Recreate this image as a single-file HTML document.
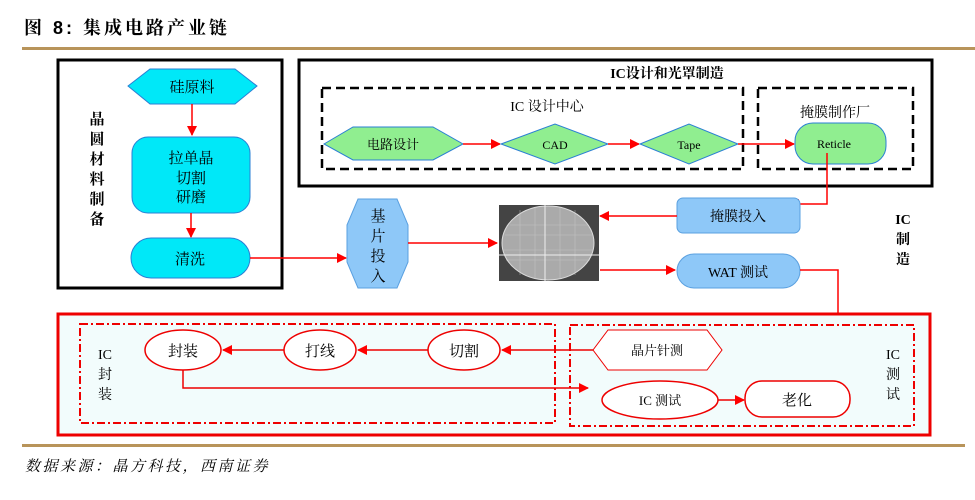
<!DOCTYPE html>
<html><head><meta charset="utf-8"><style>
body{margin:0;background:#fff;}
svg text{font-family:"Liberation Serif","Noto Serif CJK SC","Noto Sans CJK SC",serif;}
</style></head><body>
<svg width="975" height="495" viewBox="0 0 975 495" xmlns="http://www.w3.org/2000/svg">
<defs>
<marker id="a" markerWidth="10" markerHeight="10" refX="9" refY="5" orient="auto" markerUnits="userSpaceOnUse"><path d="M0,0 L10,5 L0,10 z" fill="#f00"/></marker>
</defs>
<text x="24" y="34" font-size="18" font-weight="bold" letter-spacing="3" style="font-family:'Liberation Sans','Noto Serif CJK SC',serif">图 8:  集成电路产业链</text>
<rect x="22" y="47" width="953" height="3" fill="#b8945a"/>

<!-- left box -->
<rect x="58" y="60" width="224" height="228" fill="none" stroke="#000" stroke-width="3"/>
<g font-size="15" font-weight="bold" text-anchor="middle">
<text x="97" y="124">晶</text><text x="97" y="144">圆</text><text x="97" y="164">材</text><text x="97" y="184">料</text><text x="97" y="204">制</text><text x="97" y="224">备</text>
</g>
<polygon points="128,86 150,69 235,69 257,86 235,104 150,104" fill="#00e8f8" stroke="#2a7fd4"/>
<text x="192" y="92" font-size="15" text-anchor="middle">硅原料</text>
<line x1="192" y1="104" x2="192" y2="135" stroke="#f00" stroke-width="1.5" marker-end="url(#a)"/>
<rect x="132" y="137" width="118" height="76" rx="16" fill="#00e8f8" stroke="#2a7fd4"/>
<text x="191" y="163" font-size="15" text-anchor="middle">拉单晶</text>
<text x="191" y="183" font-size="15" text-anchor="middle">切割</text>
<text x="191" y="202" font-size="15" text-anchor="middle">研磨</text>
<line x1="191" y1="213" x2="191" y2="237" stroke="#f00" stroke-width="1.5" marker-end="url(#a)"/>
<rect x="131" y="238" width="119" height="40" rx="20" fill="#00e8f8" stroke="#2a7fd4"/>
<text x="190" y="264" font-size="15" text-anchor="middle">清洗</text>

<!-- top right box -->
<rect x="299" y="60" width="633" height="126" fill="none" stroke="#000" stroke-width="3"/>
<text x="667" y="78" font-size="14" font-weight="bold" text-anchor="middle">IC设计和光罩制造</text>
<rect x="322" y="88" width="421" height="81" fill="none" stroke="#000" stroke-width="2.5" stroke-dasharray="9,5"/>
<text x="547" y="111" font-size="14" text-anchor="middle">IC 设计中心</text>
<rect x="758" y="88" width="155" height="81" fill="none" stroke="#000" stroke-width="2.5" stroke-dasharray="9,5"/>
<text x="835" y="117" font-size="14" text-anchor="middle">掩膜制作厂</text>
<polygon points="324,144 353,127 433,127 463,144 433,160 353,160" fill="#90ee90" stroke="#2a7fd4"/>
<text x="393" y="149" font-size="13" text-anchor="middle">电路设计</text>
<line x1="463" y1="144" x2="500" y2="144" stroke="#f00" stroke-width="1.5" marker-end="url(#a)"/>
<polygon points="501,144 555,124 608,144 555,164" fill="#90ee90" stroke="#2a7fd4"/>
<text x="555" y="149" font-size="12" text-anchor="middle">CAD</text>
<line x1="608" y1="144" x2="639" y2="144" stroke="#f00" stroke-width="1.5" marker-end="url(#a)"/>
<polygon points="640,144 689,124 738,144 689,164" fill="#90ee90" stroke="#2a7fd4"/>
<text x="689" y="149" font-size="12" text-anchor="middle">Tape</text>
<line x1="738" y1="144" x2="794" y2="144" stroke="#f00" stroke-width="1.5" marker-end="url(#a)"/>
<rect x="795" y="123" width="91" height="41" rx="18" fill="#90ee90" stroke="#2a7fd4"/>
<text x="834" y="148" font-size="12" text-anchor="middle">Reticle</text>
<polyline points="827,153 827,204 790,204" fill="none" stroke="#f00" stroke-width="1.5" marker-end="url(#a)"/>

<rect x="677" y="198" width="123" height="35" rx="6" fill="#8ec8f8" stroke="#5aa0e0"/>
<text x="738" y="221" font-size="14" text-anchor="middle">掩膜投入</text>
<line x1="677" y1="216" x2="600" y2="216" stroke="#f00" stroke-width="1.5" marker-end="url(#a)"/>
<!-- wafer -->
<rect x="499" y="205" width="100" height="76" fill="#444"/>
<ellipse cx="548" cy="243" rx="46" ry="37" fill="#aaa" stroke="#ddd"/>
<g stroke="#ccc" stroke-width="0.6" opacity="0.7">
<line x1="510" y1="225" x2="588" y2="225"/><line x1="505" y1="235" x2="592" y2="235"/><line x1="503" y1="250" x2="593" y2="250"/><line x1="506" y1="260" x2="590" y2="260"/>
<line x1="520" y1="210" x2="520" y2="275"/><line x1="535" y1="207" x2="535" y2="279"/><line x1="560" y1="207" x2="560" y2="279"/><line x1="575" y1="210" x2="575" y2="275"/>
</g>
<line x1="499" y1="255" x2="599" y2="255" stroke="#eee"/><line x1="545" y1="205" x2="545" y2="281" stroke="#eee"/>
<rect x="677" y="254" width="123" height="34" rx="17" fill="#8ec8f8" stroke="#5aa0e0"/>
<text x="738" y="277" font-size="14" text-anchor="middle">WAT 测试</text>
<line x1="600" y1="270" x2="675" y2="270" stroke="#f00" stroke-width="1.5" marker-end="url(#a)"/>
<polygon points="358,199 397,199 408,225 408,262 397,288 358,288 347,262 347,225" fill="#8ec8f8" stroke="#5aa0e0"/>
<g font-size="15" text-anchor="middle"><text x="378" y="221">基</text><text x="378" y="241">片</text><text x="378" y="261">投</text><text x="378" y="281">入</text></g>
<line x1="250" y1="258" x2="346" y2="258" stroke="#f00" stroke-width="1.5" marker-end="url(#a)"/>
<line x1="408" y1="243" x2="497" y2="243" stroke="#f00" stroke-width="1.5" marker-end="url(#a)"/>
<g font-size="14" font-weight="bold" text-anchor="middle"><text x="903" y="224">IC</text><text x="903" y="244">制</text><text x="903" y="264">造</text></g>
<polyline points="800,270 838,270 838,350 722,350" fill="none" stroke="#f00" stroke-width="1.5" marker-end="url(#a)"/>

<!-- bottom -->
<rect x="58" y="314" width="872" height="121" fill="#f2fcfc" stroke="#e00" stroke-width="3"/>
<rect x="80" y="324" width="475" height="99" fill="none" stroke="#e00" stroke-width="2" stroke-dasharray="8,3,2,3"/>
<rect x="570" y="325" width="344" height="101" fill="none" stroke="#e00" stroke-width="2" stroke-dasharray="8,3,2,3"/>
<g font-size="14" text-anchor="middle"><text x="105" y="359">IC</text><text x="105" y="379">封</text><text x="105" y="399">装</text></g>
<g font-size="14" text-anchor="middle"><text x="893" y="359">IC</text><text x="893" y="379">测</text><text x="893" y="399">试</text></g>
<ellipse cx="183" cy="350" rx="38" ry="20" fill="#fff" stroke="#e00" stroke-width="1.5"/>
<text x="183" y="356" font-size="15" text-anchor="middle">封装</text>
<ellipse cx="320" cy="350" rx="36" ry="20" fill="#fff" stroke="#e00" stroke-width="1.5"/>
<text x="320" y="356" font-size="15" text-anchor="middle">打线</text>
<ellipse cx="464" cy="350" rx="36" ry="20" fill="#fff" stroke="#e00" stroke-width="1.5"/>
<text x="464" y="356" font-size="15" text-anchor="middle">切割</text>
<polygon points="593,350 608,330 707,330 722,350 707,370 608,370" fill="#fff" stroke="#e00"/>
<text x="657" y="355" font-size="13" text-anchor="middle">晶片针测</text>
<line x1="593" y1="350" x2="502" y2="350" stroke="#e00" stroke-width="1.5" marker-end="url(#a)"/>
<line x1="428" y1="350" x2="358" y2="350" stroke="#e00" stroke-width="1.5" marker-end="url(#a)"/>
<line x1="284" y1="350" x2="223" y2="350" stroke="#e00" stroke-width="1.5" marker-end="url(#a)"/>
<polyline points="183,370 183,388 588,388" fill="none" stroke="#e00" stroke-width="1.5" marker-end="url(#a)"/>
<ellipse cx="660" cy="400" rx="58" ry="19" fill="#fff" stroke="#e00" stroke-width="1.5"/>
<text x="660" y="405" font-size="13" text-anchor="middle">IC 测试</text>
<line x1="718" y1="400" x2="744" y2="400" stroke="#e00" stroke-width="1.5" marker-end="url(#a)"/>
<rect x="745" y="381" width="105" height="36" rx="17" fill="#fff" stroke="#e00" stroke-width="1.5"/>
<text x="797" y="405" font-size="15" text-anchor="middle">老化</text>

<rect x="22" y="444" width="943" height="3" fill="#b8945a"/>
<text x="25" y="471" font-size="15" font-style="italic" letter-spacing="2.5" style="font-family:'Liberation Serif','Noto Serif CJK SC',serif">数据来源：晶方科技，西南证券</text>
</svg>
</body></html>
